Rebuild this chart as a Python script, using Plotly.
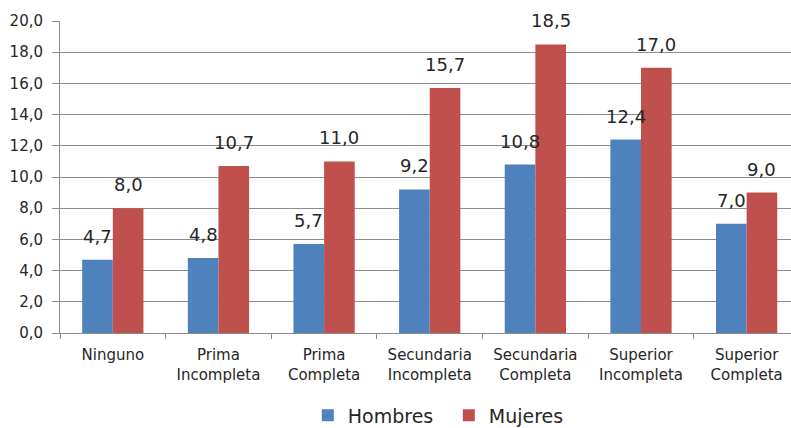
import plotly.graph_objects as go

categories = ["Ninguno", "Prima<br>Incompleta", "Prima<br>Completa", "Secundaria<br>Incompleta",
              "Secundaria<br>Completa", "Superior<br>Incompleta", "Superior<br>Completa"]
hombres = [4.7, 4.8, 5.7, 9.2, 10.8, 12.4, 7.0]
mujeres = [8.0, 10.7, 11.0, 15.7, 18.5, 17.0, 9.0]
y_ticks = [0, 2, 4, 6, 8, 10, 12, 14, 16, 18, 20]

BLUE = "#4F81BD"
RED = "#C0504D"
GRID = "#8C8C8C"
TXT = "#262626"
FONT = "DejaVu Sans"

fig = go.Figure()
fig.add_trace(go.Bar(x=categories, y=hombres, name="Hombres", marker_color=BLUE,
                     marker_line_width=0))
fig.add_trace(go.Bar(x=categories, y=mujeres, name="Mujeres", marker_color=RED,
                     marker_line_width=0))

W = 791
ml, mr, mt, mb = 60, 0, 21, 95
plot_w = W - ml - mr
x_range = [-0.5, 6.42]
px_per_cat = plot_w / (x_range[1] - x_range[0])
bargap = 0.42
half = (1 - bargap) / 4  # half the group offset in category units

ann = []
for cat, h, m in zip(categories, hombres, mujeres):
    for val, sgn in ((h, -1), (m, 1)):
        ann.append(dict(x=cat, y=val, xref="x", yref="y",
                        text=f"{val:.1f}".replace(".", ","),
                        showarrow=False, yanchor="bottom",
                        xshift=sgn * half * px_per_cat, yshift=11,
                        font=dict(family=FONT, size=18, color=TXT)))

fig.update_layout(
    width=W, height=428,
    margin=dict(l=ml, r=mr, t=mt, b=mb, autoexpand=False),
    paper_bgcolor="white", plot_bgcolor="white",
    barmode="group", bargap=bargap, bargroupgap=0,
    separators=",.",
    font=dict(family=FONT, color=TXT),
    showlegend=True,
    legend=dict(orientation="h", x=0.339, xanchor="left", y=-0.264, yanchor="middle",
                font=dict(family=FONT, size=19, color=TXT), itemwidth=30,
                entrywidth=96, entrywidthmode="pixels",
                traceorder="normal"),
    annotations=ann,
)
fig.update_xaxes(range=x_range, showline=True, linecolor=GRID, linewidth=1,
                 ticks="outside", tickson="boundaries", ticklen=5, tickcolor=GRID,
                 showgrid=False, automargin=False, ticklabelstandoff=8,
                 tickfont=dict(family=FONT, size=15, color=TXT))
fig.update_yaxes(range=[0, 20], tickvals=y_ticks, tickformat=".1f",
                 showline=True, linecolor=GRID, linewidth=1,
                 ticks="outside", ticklen=7, tickcolor=GRID,
                 showgrid=True, gridcolor=GRID, gridwidth=1, zeroline=False,
                 ticklabelstandoff=6, automargin=False,
                 tickfont=dict(family=FONT, size=15, color=TXT))

fig.write_html("out.html", config={"displayModeBar": False},
               post_script="document.body.style.margin='0';document.body.style.overflow='hidden';")
